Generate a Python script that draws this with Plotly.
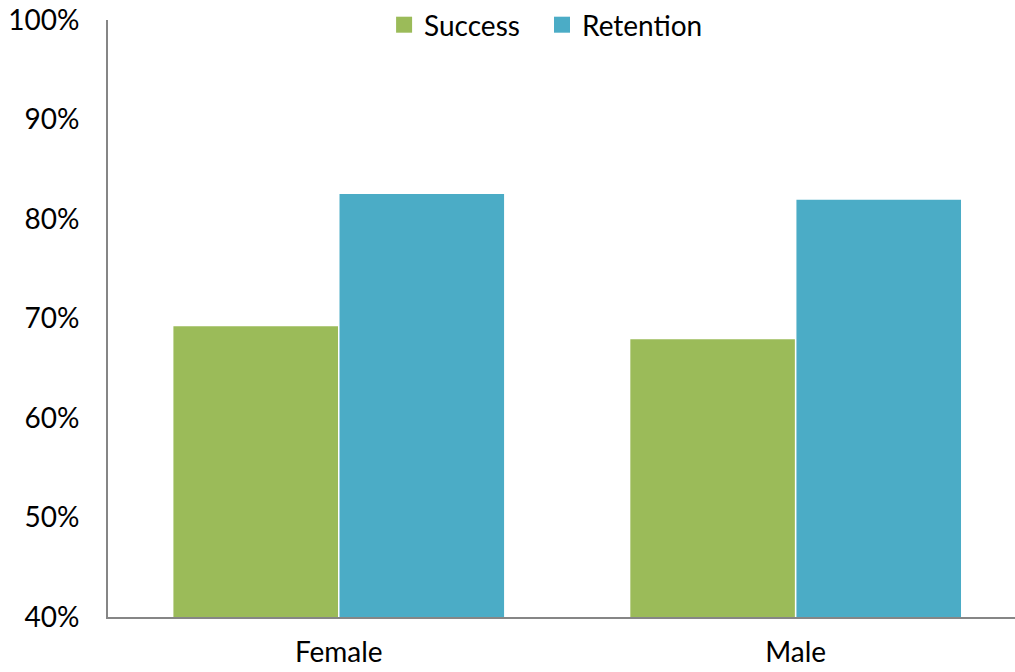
import plotly.graph_objects as go

categories = ["Female", "Male"]
success = [69.3, 68.0]
retention = [82.6, 82.0]
tick_vals = [40, 50, 60, 70, 80, 90, 100]
tick_text = ["40%", "50%", "60%", "70%", "80%", "90%", "100%"]
green = "#9BBB59"
blue = "#4BACC6"

fig = go.Figure()
fig.add_trace(go.Bar(name="Success", x=categories, y=success, showlegend=False,
                     marker=dict(color=green, line=dict(color="white", width=1.5))))
fig.add_trace(go.Bar(name="Retention", x=categories, y=retention, showlegend=False,
                     marker=dict(color=blue, line=dict(color="white", width=1.5))))
# legend entries with larger square swatches
fig.add_trace(go.Scatter(name="Success", x=[None], y=[None], mode="markers", legend="legend",
                         marker=dict(symbol="square", size=16, color=green)))
fig.add_trace(go.Scatter(name="Retention", x=[None], y=[None], mode="markers", legend="legend2",
                         marker=dict(symbol="square", size=16, color=blue)))

leg_common = dict(orientation="h", xanchor="left", y=0.992, yanchor="middle",
                  font=dict(size=28), bgcolor="rgba(0,0,0,0)", itemwidth=30)

fig.update_layout(
    width=1015, height=672,
    margin=dict(l=108, r=0, t=20, b=55),
    paper_bgcolor="white", plot_bgcolor="white",
    barmode="group", bargap=0.273, bargroupgap=0,
    font=dict(family="Lato", size=28, color="black"),
    showlegend=True,
    legend=dict(x=0.3044, **leg_common),
    legend2=dict(x=0.4785, **leg_common),
    xaxis=dict(range=[-0.505, 1.48], showline=True, linecolor="#868686", linewidth=2,
               showgrid=False, ticks="", ticklabelstandoff=9, zeroline=False,
               automargin=False),
    yaxis=dict(range=[40, 100], tickvals=tick_vals, ticktext=tick_text,
               showline=True, linecolor="#868686", linewidth=2, showgrid=False,
               ticks="", ticklabelstandoff=21, zeroline=False, automargin=False),
)

fig.write_html("out.html", config={"displayModeBar": False},
               post_script="document.body.style.margin='0';document.body.style.overflow='hidden';")
